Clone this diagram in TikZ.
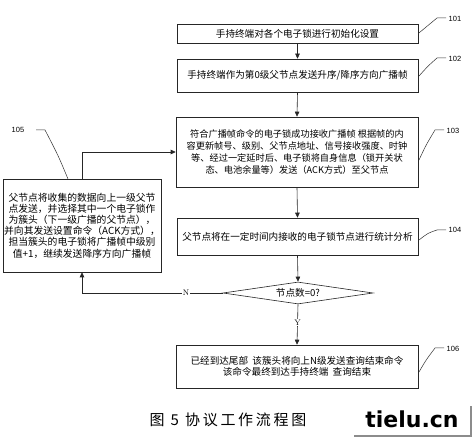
\documentclass[tikz,border=0pt]{standalone}
\usepackage{fontspec}
\setmainfont{Liberation Sans}
\newfontfamily\cjk{Noto Sans CJK SC}
\newfontfamily\capfont[LetterSpace=18]{Noto Sans CJK SC}
\newfontfamily\wmfont{DejaVu Sans}
\usetikzlibrary{arrows.meta,shapes.geometric}
\begin{document}
\begin{tikzpicture}[x=1pt,y=-1pt,
  box/.style={draw=black!85,line width=0.6pt,inner sep=1pt,align=center,font=\cjk\fontsize{9.6}{11.5}\selectfont},
  arr/.style={draw=black!85,line width=0.6pt,-{Triangle[length=5pt,width=4.5pt]}},
  lead/.style={draw=black!80,line width=0.5pt},
  lbl/.style={font=\fontsize{7.5}{8}\selectfont,inner sep=0pt},
  yn/.style={font=\fontfamily{lmr}\fontsize{8}{9}\selectfont,fill=white,inner sep=1pt}]
\useasboundingbox (0,0) rectangle (472,438);
\fill[white] (0,0) rectangle (472,438);

\node[box,minimum width=241pt,minimum height=19pt] (b101) at (297.5,33.5) {手持终端对各个电子锁进行初始化设置};
\node[box,minimum width=241pt,minimum height=33pt] (b102) at (297.5,75.5) {手持终端作为第0级父节点发送升序/降序方向广播帧};
\node[box,minimum width=242pt,minimum height=70pt,font=\cjk\fontsize{9.2}{12}\selectfont] (b103) at (297,152) {符合广播帧命令的电子锁成功接收广播帧 根据帧的内\\容更新帧号、级别、父节点地址、信号接收强度、时钟\\等、经过一定延时后、电子锁将自身信息（锁开关状\\态、电池余量等）发送（ACK方式）至父节点};
\node[box,minimum width=241pt,minimum height=37pt] (b104) at (297.5,236.5) {父节点将在一定时间内接收的电子锁节点进行统计分析};
\node[draw=black!85,line width=0.6pt,diamond,aspect=7,minimum width=150pt,minimum height=22pt,inner sep=0pt,font=\cjk\fontsize{9.6}{11}\selectfont] (d) at (298,293) {节点数=0?};
\node[box,minimum width=156pt,minimum height=93pt,font=\cjk\fontsize{9.8}{11.2}\selectfont] (b105) at (82,225.5) {父节点将收集的数据向上一级父节\\点发送，并选择其中一个电子锁作\\为簇头（下一级广播的父节点），\\并向其发送设置命令（ACK方式），\\担当簇头的电子锁将广播帧中级别\\值+1，继续发送降序方向广播帧};
\node[box,minimum width=242pt,minimum height=43pt,font=\cjk\fontsize{9.6}{10.5}\selectfont] (b106) at (297,366.5) {已经到达尾部\ \ 该簇头将向上N级发送查询结束命令\\该命令最终到达手持终端\ \ 查询结束};

% connectors
\draw[arr] (b101.south) -- (b102.north);
\draw[arr] (b102.south) -- (b103.north);
\draw[arr] (b103.south) -- (b104.north);
\draw[arr] (b104.south) -- (d.north);
\draw[arr] (b105.north) |- (b103.west);
\draw[arr] (d.west) -| (b105.south) node[yn,pos=0.13] {N};
\draw[arr] (d.south) -- (b106.north) node[yn,pos=0.45] {Y};

% leaders and reference numbers
\coordinate (l1a) at (b101.east);
\draw[lead] (l1a) .. controls (428,26) .. (437,18) -- (446,18);
\node[lbl] (n101) at (455,19) {101};
\coordinate (l2a) at (419,76);
\draw[lead] (l2a) .. controls (428,66) .. (437,58) -- (446,58);
\node[lbl] (n102) at (455,59) {102};
\coordinate (l3a) at (419,160);
\draw[lead] (l3a) .. controls (426,145) .. (435,130) -- (444,130);
\node[lbl] (n103) at (453,131) {103};
\coordinate (l4a) at (419,240);
\draw[lead] (l4a) .. controls (428,233) .. (437,230) -- (446,230);
\node[lbl] (n104) at (455,230) {104};
\coordinate (l5a) at (68,179);
\draw[lead] (l5a) .. controls (58,155) .. (45,130) -- (36,130);
\node[lbl] (n105) at (18,130) {105};
\coordinate (l6a) at (419,372);
\draw[lead] (l6a) .. controls (426,360) .. (435,348) -- (444,348);
\node[lbl] (n106) at (453,349) {106};

% caption
\node[font=\capfont\fontsize{15}{16}\selectfont,inner sep=0pt] (cap) at (228,420) {图 5 协议工作流程图};
% watermark
\node[font=\wmfont\bfseries\fontsize{22}{24}\selectfont,inner sep=0pt,anchor=base] (wm) at (412,428) {tielu.cn};
\draw[black!45,line width=1.5pt] (354,436) -- (471,436) -- (471,406);
\end{tikzpicture}
\end{document}
